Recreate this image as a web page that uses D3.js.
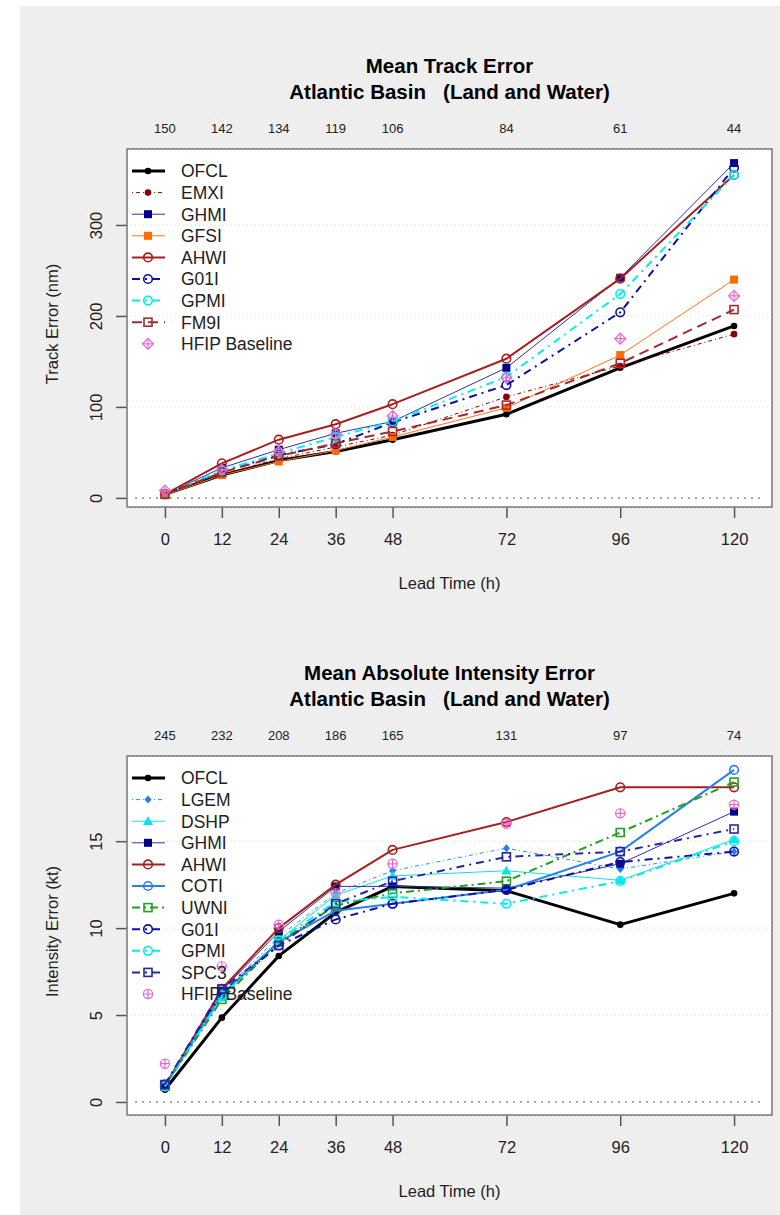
<!DOCTYPE html>
<html>
<head>
<meta charset="utf-8">
<script src="https://cdn.jsdelivr.net/npm/d3@7"></script>
<style>
body { margin: 0; background: #fff; }
svg { display: block; font-family: "Liberation Sans", Arial, sans-serif; }
</style>
</head>
<body>
<div id="the_chart"></div>
<script>
// lead times (h) and number of cases
var leadTimes = [0, 12, 24, 36, 48, 72, 96, 120];
var trackCounts = [150, 142, 134, 119, 106, 84, 61, 44];
var intensityCounts = [245, 232, 208, 186, 165, 131, 97, 74];

// track error (nm)
var trackModels = ["OFCL", "EMXI", "GHMI", "GFSI", "AHWI", "G01I", "GPMI", "FM9I", "HFIP Baseline"];
var trackOFCL = [4, 25, 41, 51, 64, 92, 143, 189];
var trackEMXI = [4, 26, 43, 56, 69, 111, 145, 180];
var trackGHMI = [4, 33, 53, 71, 84, 143, 242, 368];
var trackGFSI = [3, 25, 40, 52, 67, 99, 157, 240];
var trackAHWI = [4, 38, 64, 81, 103, 153, 241, 355];
var trackG01I = [4, 29, 47, 59, 83, 124, 204, 363];
var trackGPMI = [4, 30, 49, 67, 84, 133, 224, 355];
var trackFM9I = [4, 28, 46, 60, 73, 102, 148, 207];
var trackHFIP = [8, 31, 51, 70, 90, 132, 175, 222];
var trackTicks = [0, 100, 200, 300];

// intensity error (kt)
var intModels = ["OFCL", "LGEM", "DSHP", "GHMI", "AHWI", "COTI", "UWNI", "G01I", "GPMI", "SPC3", "HFIP Baseline"];
var intOFCL = [0.7, 4.85, 8.4, 10.9, 12.4, 12.15, 10.2, 12.0];
var intLGEM = [0.9, 6.3, 9.5, 12.0, 13.3, 14.6, 13.4, 14.4];
var intDSHP = [0.9, 6.0, 9.3, 11.9, 13.0, 13.3, 12.75, 15.1];
var intGHMI = [1.0, 6.4, 9.8, 12.4, 12.4, 12.3, 13.7, 16.7];
var intAHWI = [0.9, 6.5, 10.0, 12.5, 14.5, 16.1, 18.1, 18.1];
var intCOTI = [0.9, 6.2, 9.2, 11.0, 11.4, 12.2, 14.4, 19.1];
var intUWNI = [0.9, 5.9, 9.2, 11.3, 12.0, 12.7, 15.5, 18.4];
var intG01I = [1.0, 6.3, 9.0, 10.5, 11.4, 12.2, 13.8, 14.4];
var intGPMI = [0.9, 6.1, 9.3, 11.5, 11.8, 11.4, 12.7, 15.0];
var intSPC3 = [1.0, 6.5, 9.0, 11.4, 12.7, 14.1, 14.4, 15.7];
var intHFIP = [2.2, 7.8, 10.2, 12.0, 13.7, 16.0, 16.6, 17.1];
var intTicks = [0, 5, 10, 15];

// line / marker style for each model
var styles = {
  "OFCL":  {color: "#000000", mcolor: "#000000", width: 3,   dash: null,      shape: "dot"},
  "EMXI":  {color: "#8B0000", mcolor: "#8B0000", width: 1,   dash: "1,3,4,3", shape: "dot"},
  "GHMI":  {color: "#3030a8", mcolor: "#00008B", width: 1,   dash: null,      shape: "square"},
  "GFSI":  {color: "#FF7020", mcolor: "#FF6A00", width: 1,   dash: null,      shape: "square"},
  "AHWI":  {color: "#A52020", mcolor: "#A52020", width: 2,   dash: null,      shape: "circle"},
  "G01I":  {color: "#1010A0", mcolor: "#1010A0", width: 2,   dash: "8,5,2,5", shape: "circle"},
  "GPMI":  {color: "#00EEEE", mcolor: "#00EEEE", width: 2,   dash: "8,5,2,5", shape: "circle"},
  "FM9I":  {color: "#A52A2A", mcolor: "#A52A2A", width: 2,   dash: "10,6",    shape: "osquare"},
  "LGEM":  {color: "#1E90FF", mcolor: "#1E80F0", width: 1,   dash: "1,3,4,3", shape: "diamond"},
  "DSHP":  {color: "#10E0E8", mcolor: "#10E0E8", width: 1,   dash: null,      shape: "triangle"},
  "COTI":  {color: "#2A80E8", mcolor: "#2A80E8", width: 2,   dash: null,      shape: "circle"},
  "UWNI":  {color: "#22A022", mcolor: "#22A022", width: 2,   dash: "8,4,2,4", shape: "osquare"},
  "SPC3":  {color: "#2626A6", mcolor: "#2626A6", width: 2,   dash: "8,5,2,5", shape: "osquare"},
  "HFIP Baseline": {color: "#EE66CC", mcolor: "#EE66CC", width: 0, dash: null, shape: "diamondplus"}
};

var w = 780, h = 1215;
var svg = d3.select("#the_chart").append("svg")
            .attr("width", w)
            .attr("height", h);

// light hatched page background
var pat = svg.append("defs").append("pattern")
   .attr("id", "hatch")
   .attr("patternUnits", "userSpaceOnUse")
   .attr("width", 4).attr("height", 4);
pat.append("rect").attr("width", 4).attr("height", 4).attr("fill", "#f1f1f1");
pat.append("path").attr("d", "M-1,1 l2,-2 M0,4 l4,-4 M3,5 l2,-2")
   .attr("stroke", "#e7e7e7").attr("stroke-width", 1);
svg.append("rect").attr("x", 20).attr("y", 6)
   .attr("width", w - 20).attr("height", h - 6)
   .attr("fill", "url(#hatch)");

function marker(g, shape, x, y, color) {
  if (shape == "dot") {
    g.append("circle").attr("cx", x).attr("cy", y).attr("r", 3.3).attr("fill", color);
  } else if (shape == "circle") {
    g.append("circle").attr("cx", x).attr("cy", y).attr("r", 4.3)
     .attr("fill", "none").attr("stroke", color).attr("stroke-width", 1.6);
  } else if (shape == "square") {
    g.append("rect").attr("x", x - 4).attr("y", y - 4).attr("width", 8).attr("height", 8).attr("fill", color);
  } else if (shape == "osquare") {
    g.append("rect").attr("x", x - 4).attr("y", y - 4).attr("width", 8).attr("height", 8)
     .attr("fill", "none").attr("stroke", color).attr("stroke-width", 1.6);
  } else if (shape == "triangle") {
    g.append("path").attr("d", "M" + x + "," + (y - 5) + "L" + (x + 5) + "," + (y + 3.8) + "L" + (x - 5) + "," + (y + 3.8) + "Z")
     .attr("fill", color);
  } else if (shape == "diamond") {
    g.append("path").attr("d", "M" + x + "," + (y - 4) + "L" + (x + 3.5) + "," + y + "L" + x + "," + (y + 4) + "L" + (x - 3.5) + "," + y + "Z")
     .attr("fill", color);
  } else if (shape == "diamondplus" || shape == "circleplus") {
    if (shape == "diamondplus") {
      g.append("path").attr("d", "M" + x + "," + (y - 5.5) + "L" + (x + 5.5) + "," + y + "L" + x + "," + (y + 5.5) + "L" + (x - 5.5) + "," + y + "Z")
       .attr("fill", "none").attr("stroke", color).attr("stroke-width", 1.2);
    } else {
      g.append("circle").attr("cx", x).attr("cy", y).attr("r", 4.6)
       .attr("fill", "none").attr("stroke", color).attr("stroke-width", 1.2);
    }
    g.append("path").attr("d", "M" + (x - 5) + "," + y + "H" + (x + 5) + "M" + x + "," + (y - 5) + "V" + (y + 5))
     .attr("stroke", color).attr("stroke-width", 1.2);
  }
}

function drawPanel(p) {
  var left = 127, right = 772;
  var xscale = d3.scaleLinear().domain([-8, 128]).range([left, right]);
  var yscale = d3.scaleLinear().domain(p.ydomain).range([p.bottom, p.top]);
  var cx = (left + right) / 2;

  // titles
  svg.append("text").attr("x", cx).attr("y", p.top - 76)
     .attr("text-anchor", "middle").attr("font-size", 20.5).attr("font-weight", "bold")
     .text(p.title1);
  svg.append("text").attr("x", cx).attr("y", p.top - 50)
     .attr("text-anchor", "middle").attr("font-size", 20.5).attr("font-weight", "bold")
     .style("white-space", "pre")
     .text(p.title2);

  // number of cases
  svg.selectAll(null).data(p.counts).enter().append("text")
     .attr("x", function (d, i) { return xscale(leadTimes[i]); })
     .attr("y", p.top - 16)
     .attr("text-anchor", "middle").attr("font-size", 13).attr("fill", "#222")
     .text(function (d) { return d; });

  // plot area
  svg.append("rect").attr("x", left).attr("y", p.top)
     .attr("width", right - left).attr("height", p.bottom - p.top)
     .attr("fill", "#fff");

  // grid
  svg.selectAll(null).data(p.yticks.slice(1)).enter().append("line")
     .attr("x1", left).attr("x2", right)
     .attr("y1", function (d) { return yscale(d); })
     .attr("y2", function (d) { return yscale(d); })
     .attr("stroke", "#dcdcdc").attr("stroke-width", 1).attr("stroke-dasharray", "1,3");
  svg.append("line").attr("x1", left + 8).attr("x2", right - 8)
     .attr("y1", yscale(0)).attr("y2", yscale(0))
     .attr("stroke", "#aaa").attr("stroke-width", 2).attr("stroke-dasharray", "2,5");

  // axes
  var xaxis = d3.axisBottom(xscale).tickValues(leadTimes).tickSize(11).tickSizeOuter(0);
  var gx = svg.append("g").attr("transform", "translate(0," + p.bottom + ")").call(xaxis);
  gx.select(".domain").remove();
  gx.selectAll(".tick line").attr("stroke", "#555").attr("stroke-width", 1.5);
  gx.selectAll(".tick text").attr("y", 26).attr("font-size", 16.5)
    .attr("font-family", "Liberation Sans, Arial, sans-serif").attr("fill", "#222");

  var yaxis = d3.axisLeft(yscale).tickValues(p.yticks).tickSize(11).tickSizeOuter(0);
  var gy = svg.append("g").attr("transform", "translate(" + left + ",0)").call(yaxis);
  gy.select(".domain").remove();
  gy.selectAll(".tick line").attr("stroke", "#555").attr("stroke-width", 1.5);
  gy.selectAll(".tick text")
    .attr("transform", "rotate(-90)")
    .attr("x", 0).attr("y", -31).attr("dy", "0.35em")
    .attr("text-anchor", "middle").attr("font-size", 16.5)
    .attr("font-family", "Liberation Sans, Arial, sans-serif").attr("fill", "#222");

  // axis titles
  svg.append("text").attr("x", cx).attr("y", p.bottom + 82)
     .attr("text-anchor", "middle").attr("font-size", 16.5).attr("fill", "#222")
     .text("Lead Time (h)");
  svg.append("text")
     .attr("transform", "translate(58," + ((p.top + p.bottom) / 2 - 4) + ") rotate(-90)")
     .attr("text-anchor", "middle").attr("font-size", 16.5).attr("fill", "#222")
     .text(p.ylabel);

  // series
  var line = d3.line()
     .x(function (d, i) { return xscale(leadTimes[i]); })
     .y(function (d) { return yscale(d); });
  var plot = svg.append("g");
  p.series.forEach(function (s) {
    var st = styles[s.name];
    var shape = s.name == "HFIP Baseline" ? p.hfipShape : st.shape;
    if (st.width > 0) {
      plot.append("path").datum(s.values)
          .attr("d", line)
          .attr("fill", "none")
          .attr("stroke", st.color)
          .attr("stroke-width", st.width)
          .attr("stroke-dasharray", st.dash)
          .attr("stroke-linejoin", "round");
    }
    s.values.forEach(function (v, i) {
      marker(plot, shape, xscale(leadTimes[i]), yscale(v), st.mcolor);
    });
  });

  // box
  svg.append("rect").attr("x", left).attr("y", p.top)
     .attr("width", right - left).attr("height", p.bottom - p.top)
     .attr("fill", "none").attr("stroke", "#777").attr("stroke-width", 1.5);

  // legend
  var lg = svg.append("g");
  p.series.forEach(function (s, i) {
    var st = styles[s.name];
    var shape = s.name == "HFIP Baseline" ? p.hfipShape : st.shape;
    var ly = p.top + 22 + i * 21.6;
    if (st.width > 0) {
      lg.append("line").attr("x1", 132).attr("x2", 165).attr("y1", ly).attr("y2", ly)
        .attr("stroke", st.color).attr("stroke-width", st.width)
        .attr("stroke-dasharray", st.dash);
    }
    marker(lg, shape, 148, ly, st.mcolor);
    lg.append("text").attr("x", 181).attr("y", ly).attr("dy", "0.36em")
      .attr("font-size", 17.5).attr("fill", "#222")
      .text(s.name);
  });
}

drawPanel({
  top: 149, bottom: 507, ydomain: [-10, 383.5], yticks: trackTicks,
  title1: "Mean Track Error", title2: "Atlantic Basin   (Land and Water)",
  counts: trackCounts, ylabel: "Track Error (nm)", hfipShape: "diamondplus",
  series: [
    {name: trackModels[0], values: trackOFCL},
    {name: trackModels[1], values: trackEMXI},
    {name: trackModels[2], values: trackGHMI},
    {name: trackModels[3], values: trackGFSI},
    {name: trackModels[4], values: trackAHWI},
    {name: trackModels[5], values: trackG01I},
    {name: trackModels[6], values: trackGPMI},
    {name: trackModels[7], values: trackFM9I},
    {name: trackModels[8], values: trackHFIP}
  ]
});

drawPanel({
  top: 756, bottom: 1115, ydomain: [-0.75, 19.9], yticks: intTicks,
  title1: "Mean Absolute Intensity Error", title2: "Atlantic Basin   (Land and Water)",
  counts: intensityCounts, ylabel: "Intensity Error (kt)", hfipShape: "circleplus",
  series: [
    {name: intModels[0], values: intOFCL},
    {name: intModels[1], values: intLGEM},
    {name: intModels[2], values: intDSHP},
    {name: intModels[3], values: intGHMI},
    {name: intModels[4], values: intAHWI},
    {name: intModels[5], values: intCOTI},
    {name: intModels[6], values: intUWNI},
    {name: intModels[7], values: intG01I},
    {name: intModels[8], values: intGPMI},
    {name: intModels[9], values: intSPC3},
    {name: intModels[10], values: intHFIP}
  ]
});
</script>
</body>
</html>
